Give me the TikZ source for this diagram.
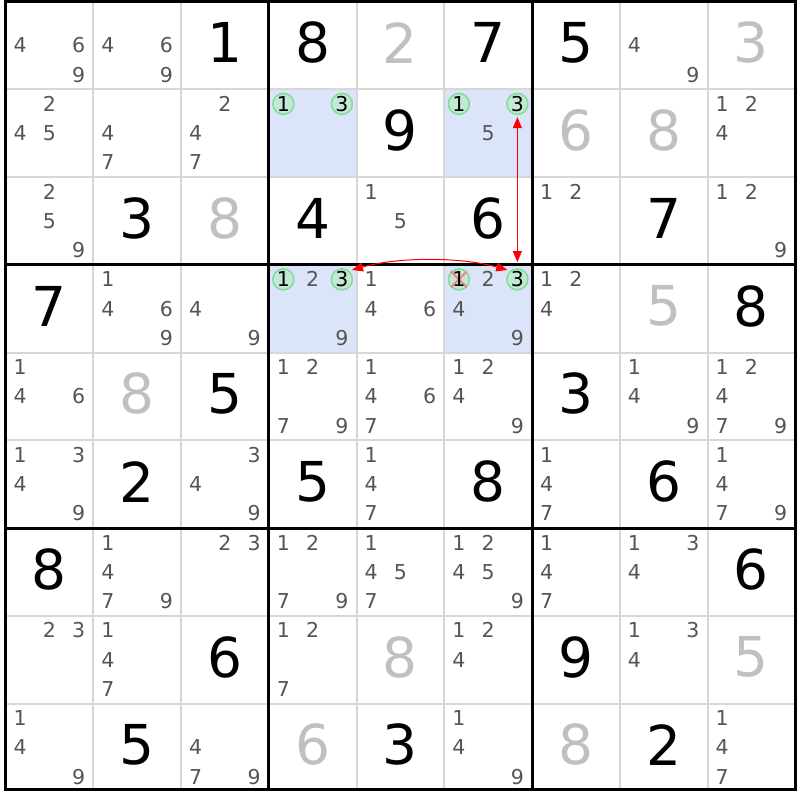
\documentclass[tikz,border=0pt]{standalone}
\usepackage{fontspec}
\setmainfont{DejaVu Sans}
\usetikzlibrary{arrows.meta}
\definecolor{candc}{RGB}{85,85,85}
\definecolor{givc}{RGB}{192,192,192}
\definecolor{hl}{RGB}{220,228,250}
\definecolor{thin}{RGB}{215,215,215}
\definecolor{cgreen}{RGB}{130,220,150}
\definecolor{cfill}{RGB}{196,232,214}
\definecolor{xred}{RGB}{240,130,130}
\tikzset{
 cand/.style={inner sep=0pt, text=candc, font=\fontsize{20.5}{20.5}\selectfont},
 candcirc/.style={cand, text=black, circle, draw=cgreen, fill=cfill, line width=1.5pt, minimum size=21pt},
 solved/.style={inner sep=0pt, text=black, font=\fontsize{55}{55}\selectfont},
 given/.style={solved, text=givc},
 thinline/.style={draw=thin, line width=2pt},
 thickline/.style={draw=black, line width=3pt},
 link/.style={draw=red, line width=1pt, {Triangle[length=11pt,width=9pt]}-{Triangle[length=11pt,width=9pt]}},
 xmark/.style={draw=xred, line width=2pt},
 hlcell/.style={fill=hl}
}
\newcommand\CandS[4]{% style,row,col,digit
 \pgfmathsetmacro\px{5.5+87.75*(#3-1)+87.75*(2*mod(#4-1,3)+1)/6}%
 \pgfmathsetmacro\py{1.5+87.75*(#2-1)+87.75*(2*floor((#4-1)/3)+1)/6}%
 \node[#1] (c#2#3n#4) at (\px,\py) {#4};}
\newcommand\Cands[3]{\foreach \dd in {#3}{\CandS{cand}{#1}{#2}{\dd}}}
\newcommand\CandC[3]{\CandS{candcirc}{#1}{#2}{#3}}
\newcommand\BigDig[4]{% style,row,col,digit
 \pgfmathsetmacro\px{5.5+87.75*(#3-0.5)}%
 \pgfmathsetmacro\py{1.5+87.75*(#2-0.5)-2.5}%
 \node[#1] (s#2#3) at (\px,\py) {#4};}
\newcommand\Sol[3]{\BigDig{solved}{#1}{#2}{#3}}
\newcommand\Giv[3]{\BigDig{given}{#1}{#2}{#3}}
\begin{document}
\begin{tikzpicture}[x=1pt,y=-1pt]
\useasboundingbox[fill=white] (0,0) rectangle (800,800);
% highlighted cells
\fill[hlcell] (268.75,89.25) rectangle (356.5,177);
\fill[hlcell] (444.25,89.25) rectangle (532,177);
\fill[hlcell] (268.75,264.75) rectangle (356.5,352.5);
\fill[hlcell] (444.25,264.75) rectangle (532,352.5);
% grid
\foreach \k in {1,2,4,5,7,8}{
 \draw[thinline] ({5.5+87.75*\k},1.5) -- ({5.5+87.75*\k},789.25);
 \draw[thinline] (5.5,{1.5+87.75*\k}) -- (795.25,{1.5+87.75*\k});
}
\foreach \k in {3,6}{
 \draw[thickline] ({5.5+87.75*\k},1.5) -- ({5.5+87.75*\k},789.25);
 \draw[thickline] (5.5,{1.5+87.75*\k}) -- (795.25,{1.5+87.75*\k});
}
\draw[thickline] (5.5,1.5) rectangle (795.25,789.25);
% row 1
\Cands{1}{1}{4,6,9} \Cands{1}{2}{4,6,9} \Sol{1}{3}{1} \Sol{1}{4}{8} \Giv{1}{5}{2}
\Sol{1}{6}{7} \Sol{1}{7}{5} \Cands{1}{8}{4,9} \Giv{1}{9}{3}
% row 2
\Cands{2}{1}{2,4,5} \Cands{2}{2}{4,7} \Cands{2}{3}{2,4,7}
\CandC{2}{4}{1} \CandC{2}{4}{3} \Sol{2}{5}{9}
\CandC{2}{6}{1} \CandC{2}{6}{3} \Cands{2}{6}{5}
\Giv{2}{7}{6} \Giv{2}{8}{8} \Cands{2}{9}{1,2,4}
% row 3
\Cands{3}{1}{2,5,9} \Sol{3}{2}{3} \Giv{3}{3}{8} \Sol{3}{4}{4} \Cands{3}{5}{1,5}
\Sol{3}{6}{6} \Cands{3}{7}{1,2} \Sol{3}{8}{7} \Cands{3}{9}{1,2,9}
% row 4
\Sol{4}{1}{7} \Cands{4}{2}{1,4,6,9} \Cands{4}{3}{4,9}
\CandC{4}{4}{1} \Cands{4}{4}{2} \CandC{4}{4}{3} \Cands{4}{4}{9}
\Cands{4}{5}{1,4,6}
\node[candcirc] (c46n1) at (458.875,279.375) {};
\draw[xmark] (c46n1.north west) -- (c46n1.south east);
\draw[xmark] (c46n1.north east) -- (c46n1.south west);
\node[cand, text=black] (c46n1t) at (c46n1) {1};
\Cands{4}{6}{2} \CandC{4}{6}{3} \Cands{4}{6}{4,9}
\Cands{4}{7}{1,2,4} \Giv{4}{8}{5} \Sol{4}{9}{8}
% row 5
\Cands{5}{1}{1,4,6} \Giv{5}{2}{8} \Sol{5}{3}{5} \Cands{5}{4}{1,2,7,9} \Cands{5}{5}{1,4,6,7}
\Cands{5}{6}{1,2,4,9} \Sol{5}{7}{3} \Cands{5}{8}{1,4,9} \Cands{5}{9}{1,2,4,7,9}
% row 6
\Cands{6}{1}{1,3,4,9} \Sol{6}{2}{2} \Cands{6}{3}{3,4,9} \Sol{6}{4}{5} \Cands{6}{5}{1,4,7}
\Sol{6}{6}{8} \Cands{6}{7}{1,4,7} \Sol{6}{8}{6} \Cands{6}{9}{1,4,7,9}
% row 7
\Sol{7}{1}{8} \Cands{7}{2}{1,4,7,9} \Cands{7}{3}{2,3} \Cands{7}{4}{1,2,7,9} \Cands{7}{5}{1,4,5,7}
\Cands{7}{6}{1,2,4,5,9} \Cands{7}{7}{1,4,7} \Cands{7}{8}{1,3,4} \Sol{7}{9}{6}
% row 8
\Cands{8}{1}{2,3} \Cands{8}{2}{1,4,7} \Sol{8}{3}{6} \Cands{8}{4}{1,2,7} \Giv{8}{5}{8}
\Cands{8}{6}{1,2,4} \Sol{8}{7}{9} \Cands{8}{8}{1,3,4} \Giv{8}{9}{5}
% row 9
\Cands{9}{1}{1,4,9} \Sol{9}{2}{5} \Cands{9}{3}{4,7,9} \Giv{9}{4}{6} \Sol{9}{5}{3}
\Cands{9}{6}{1,4,9} \Giv{9}{7}{8} \Sol{9}{8}{2} \Cands{9}{9}{1,4,7}
% links
\draw[link, shorten <=2pt, shorten >=6pt] (c26n3.south) -- (c46n3.north);
\draw[link, shorten <=3pt, shorten >=3pt] (c44n3.50) .. controls +(50,-14) and +(-50,-14) .. (c46n3.130);
\end{tikzpicture}
\end{document}
